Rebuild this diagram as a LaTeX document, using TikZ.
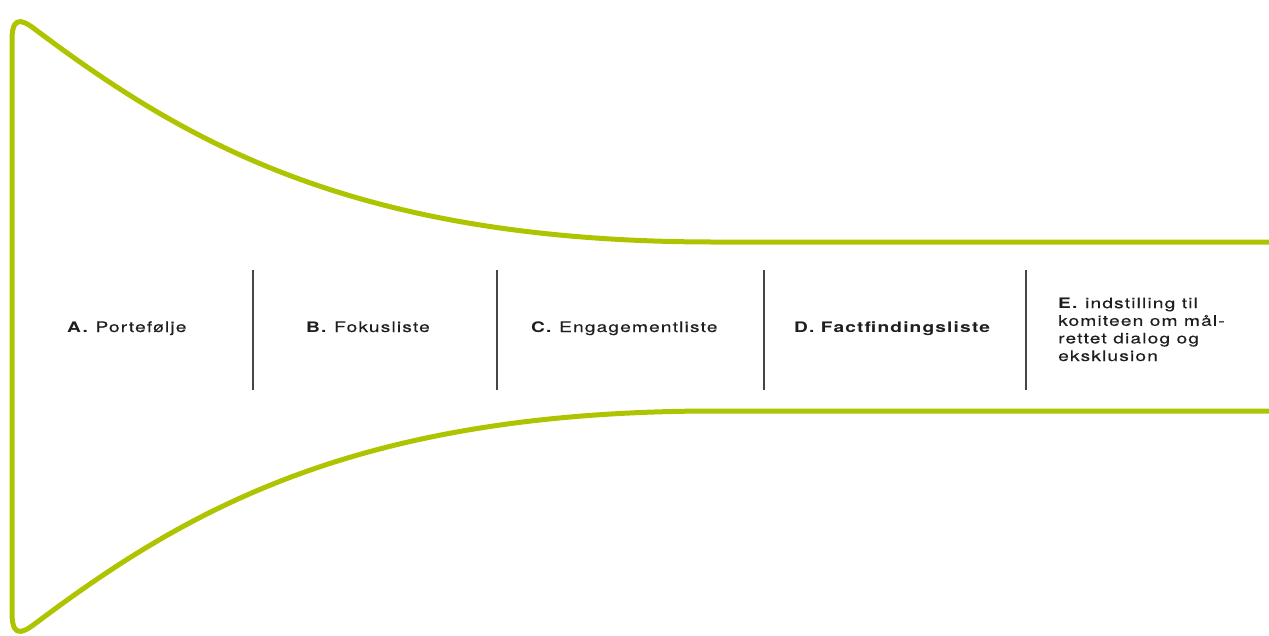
\documentclass[tikz,border=0pt]{standalone}
\usepackage{fontspec}
\newfontfamily\lblfont[LetterSpace=8,FakeStretch=1.32,UprightFeatures={FakeBold=0.4}]{TeX Gyre Heros}
\definecolor{funnelgreen}{RGB}{174,196,0}
\definecolor{inkgray}{RGB}{30,30,30}
\definecolor{divgray}{RGB}{70,70,70}
\tikzset{
  funnel/.style={draw=funnelgreen, line width=5pt, line join=round, line cap=round},
  divider/.style={draw=divgray, line width=1.3pt},
  stage/.style={anchor=base west, inner sep=0pt, text=inkgray, font=\lblfont\fontsize{14.5}{17.6}\selectfont},
}
\begin{document}
\begin{tikzpicture}[x=1pt,y=-1pt]
\useasboundingbox (0,0) rectangle (1269,635);
% funnel outline
\draw[funnel] (1275,242) -- (715,242)
  .. controls (360,242) and (190,145) .. (40,33)
  .. controls (27,23.4) and (12,10) .. (12,40)
  -- (12,613)
  .. controls (12,643) and (27,629.6) .. (40,620)
  .. controls (190,508) and (360,411) .. (715,411)
  -- (1275,411);
% dividers
\foreach \x/\n in {253/d1,497/d2,764/d3,1026/d4}{
  \coordinate (\n top) at (\x,270);
  \coordinate (\n bot) at (\x,390);
  \draw[divider] (\n top) -- (\n bot);
}
% stage labels
\node[stage] (A) at (67,332) {\textbf{A.} Portefølje};
\node[stage] (B) at (306,332) {\textbf{B.} Fokusliste};
\node[stage] (C) at (531,332) {\textbf{C.} Engagementliste};
\node[stage] (D) at (794,332) {\textbf{D. Factfindingsliste}};
\node[stage, align=left] (E) at (1058,361) {\textbf{E.} indstilling til\\komiteen om mål-\\rettet dialog og\\eksklusion};
\end{tikzpicture}
\end{document}
